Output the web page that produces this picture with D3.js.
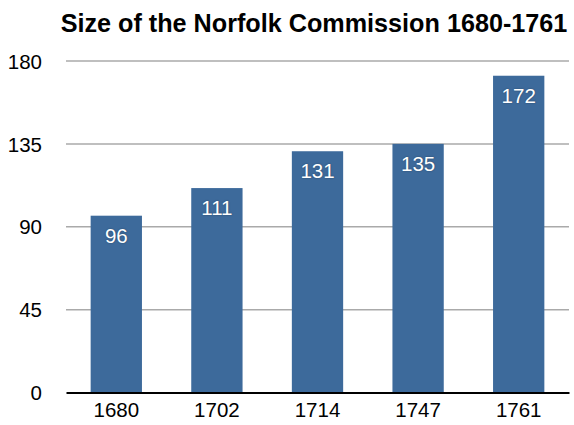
<!DOCTYPE html>
<html>
<head>
<meta charset="utf-8">
<script src="https://cdn.jsdelivr.net/npm/d3@7"></script>
<style>
  body { margin: 0; background: #fff; }
  text { font-family: "Liberation Sans", Arial, sans-serif; }
</style>
</head>
<body>
<div id="chart"></div>
<script>
// chart data
var years = ['1680', '1702', '1714', '1747', '1761'];
var sizes = [96, 111, 131, 135, 172];
var yTicks = [0, 45, 90, 135, 180];

var width = 574, height = 425;
var svg = d3.select('#chart').append('svg')
    .attr('width', width)
    .attr('height', height);

var x = d3.scaleBand()
    .domain(years)
    .range([66, 569])
    .paddingInner(0.49)
    .paddingOuter(0.245);

var y = d3.scaleLinear()
    .domain([0, 180])
    .range([392.5, 61]);

svg.append('text')
    .attr('x', 314)
    .attr('y', 31.5)
    .attr('text-anchor', 'middle')
    .style('font-size', '25.2px')
    .style('font-weight', 'bold')
    .text('Size of the Norfolk Commission 1680-1761');

// grid lines
svg.selectAll('.grid')
    .data(yTicks.filter(function (d) { return d > 0; }))
    .enter().append('line')
    .attr('class', 'grid')
    .attr('x1', 66).attr('x2', 569)
    .attr('y1', function (d) { return y(d); })
    .attr('y2', function (d) { return y(d); })
    .attr('stroke', '#aaaaaa')
    .attr('stroke-width', 1.5);

// y labels
var yAxis = svg.append('g')
    .attr('transform', 'translate(42,0)')
    .call(d3.axisLeft(y).tickValues(yTicks).tickSize(0).tickPadding(0));
yAxis.select('.domain').remove();
yAxis.selectAll('text')
    .style('font-size', '20.5px')
    .attr('fill', '#000')
    .attr('dy', '0.35em');

svg.selectAll('.bar')
    .data(sizes)
    .enter().append('rect')
    .attr('class', 'bar')
    .attr('x', function (d, i) { return x(years[i]); })
    .attr('width', x.bandwidth())
    .attr('y', function (d) { return y(d); })
    .attr('height', function (d) { return y(0) - y(d); })
    .attr('fill', '#3d6a9b');

svg.selectAll('.val')
    .data(sizes)
    .enter().append('text')
    .attr('class', 'val')
    .attr('x', function (d, i) { return x(years[i]) + x.bandwidth() / 2; })
    .attr('y', function (d) { return y(d) + 27; })
    .attr('text-anchor', 'middle')
    .attr('fill', '#fff')
    .style('font-size', '20.5px')
    .style('text-shadow', '0 0 2px rgba(0,0,0,0.35)')
    .text(function (d) { return d; });

// x axis
var xAxis = svg.append('g')
    .attr('transform', 'translate(0,' + y(0) + ')')
    .call(d3.axisBottom(x).tickSize(0).tickPadding(10));
xAxis.select('.domain')
    .attr('stroke', '#000')
    .attr('stroke-width', 2);
xAxis.selectAll('text')
    .style('font-size', '20.5px')
    .attr('fill', '#000');
</script>
</body>
</html>
